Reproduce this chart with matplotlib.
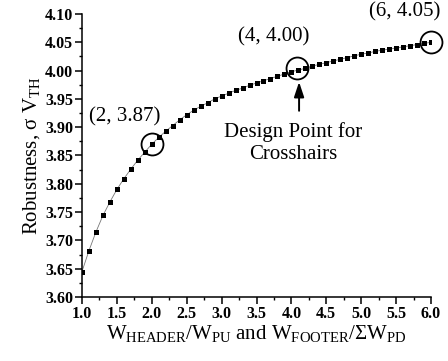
import matplotlib
matplotlib.use("Agg")
import matplotlib.pyplot as plt
from matplotlib.ticker import MultipleLocator, FormatStrFormatter

plt.rcParams['font.family'] = ['Liberation Serif', 'DejaVu Serif']
plt.rcParams['mathtext.fontset'] = 'custom'
plt.rcParams['mathtext.rm'] = 'Liberation Serif'
plt.rcParams['mathtext.it'] = 'Liberation Serif:italic'
plt.rcParams['mathtext.bf'] = 'Liberation Serif:bold'

# ---- data ----
ratio = [1.0, 1.1, 1.2, 1.3, 1.4, 1.5, 1.6, 1.7, 1.8, 1.9,
         2.0, 2.1, 2.2, 2.3, 2.4, 2.5, 2.6, 2.7, 2.8, 2.9,
         3.0, 3.1, 3.2, 3.3, 3.4, 3.5, 3.6, 3.7, 3.8, 3.9,
         4.0, 4.1, 4.2, 4.3, 4.4, 4.5, 4.6, 4.7, 4.8, 4.9,
         5.0, 5.1, 5.2, 5.3, 5.4, 5.5, 5.6, 5.7, 5.8, 5.9, 6.0]
robustness = [3.645, 3.682, 3.715, 3.744, 3.768, 3.790, 3.809, 3.826, 3.842, 3.856,
              3.870, 3.882, 3.893, 3.903, 3.913, 3.922, 3.930, 3.937, 3.943, 3.950,
              3.955, 3.960, 3.965, 3.969, 3.974, 3.978, 3.982, 3.986, 3.990, 3.994,
              3.998, 4.001, 4.004, 4.008, 4.011, 4.014, 4.017, 4.020, 4.023, 4.026,
              4.029, 4.031, 4.034, 4.036, 4.038, 4.040, 4.042, 4.044, 4.046, 4.048, 4.050]

circle_x = [2.0, 4.08, 6.0]
circle_y = [3.870, 4.005, 4.050]
circle_labels = ["(2, 3.87)", "(4, 4.00)", "(6, 4.05)"]
design_point_x = 4.11
design_point_y = 3.980
design_text = "Design Point for\nCrosshairs"

fig = plt.figure(figsize=(4.48, 3.61), dpi=100)
ax = fig.add_axes([82/448, 1-297/361, (431-82)/448, (297-14)/361])

ax.plot(ratio, robustness, color='#777777', lw=0.6, zorder=2)
ax.plot(ratio, robustness, ls='none', marker='s', ms=3.6, mfc='black', mec='black', mew=0, zorder=3)

ax.plot(circle_x, circle_y, ls='none', marker='o', ms=15.8, mfc='none', mec='black', mew=1.3, zorder=4, clip_on=False)

offsets = [(-19.4, 20.0), (-16.6, 22.3), (-18.7, 21.6)]
for cx, cy, lab, off in zip(circle_x, circle_y, circle_labels, offsets):
    ax.annotate(lab, xy=(cx, cy), xytext=off, textcoords='offset points',
                ha='center', va='center', fontsize=15, annotation_clip=False)

ax.annotate('', xy=(design_point_x, design_point_y), xytext=(design_point_x, 3.929),
            arrowprops=dict(arrowstyle='-|>,head_length=0.9,head_width=0.3', color='black', lw=1.4,
                            shrinkA=0, shrinkB=0))
ax.text(4.02, 3.872, design_text, ha='center', va='center', fontsize=15,
        linespacing=1.2, multialignment='center')

ax.set_xlim(1.0, 6.0)
ax.set_ylim(3.60, 4.10)
ax.xaxis.set_major_locator(MultipleLocator(0.5))
ax.xaxis.set_minor_locator(MultipleLocator(0.25))
ax.yaxis.set_major_locator(MultipleLocator(0.05))
ax.yaxis.set_minor_locator(MultipleLocator(0.025))
ax.xaxis.set_major_formatter(FormatStrFormatter('%.1f'))
ax.yaxis.set_major_formatter(FormatStrFormatter('%.2f'))

for s in ['top', 'right']:
    ax.spines[s].set_visible(False)
for s in ['left', 'bottom']:
    ax.spines[s].set_linewidth(1.1)

ax.tick_params(which='major', direction='out', length=5, width=1.1, labelsize=11.5, pad=1.5)
ax.tick_params(which='minor', direction='out', length=2.5, width=1.0)
for lab in ax.get_xticklabels() + ax.get_yticklabels():
    lab.set_fontweight('bold')

ax.set_xlabel(r'W$_{\mathrm{HEADER}}$/W$_{\mathrm{PU}}$ and W$_{\mathrm{FOOTER}}$/$\Sigma$W$_{\mathrm{PD}}$',
              fontsize=15, labelpad=1)
ax.set_ylabel(r'Robustness, σ V$_{\mathrm{TH}}$', fontsize=15, labelpad=2)

fig.savefig('out.png', dpi=100)
